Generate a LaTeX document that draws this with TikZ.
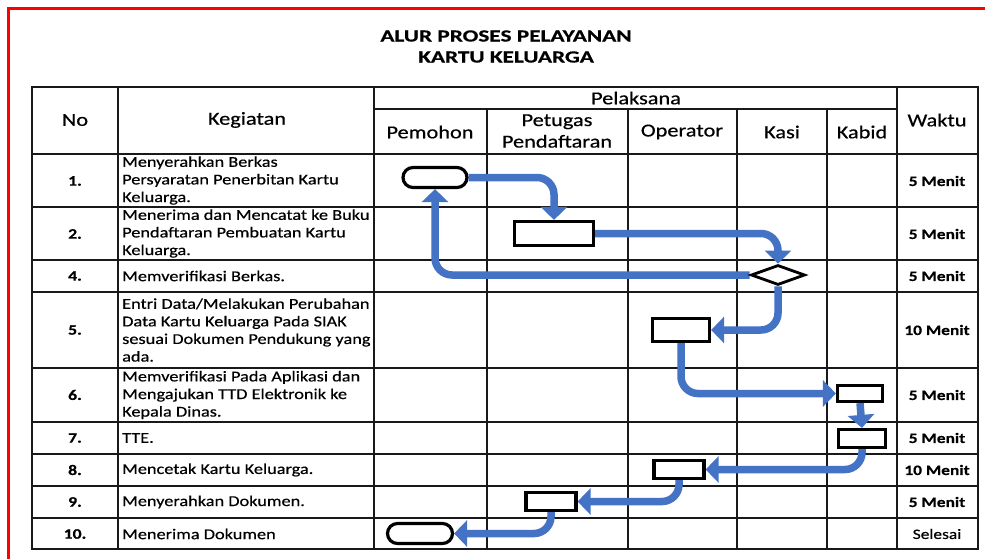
\documentclass[tikz,border=0pt]{standalone}
\usepackage{fontspec}
\setmainfont{Carlito}[FakeStretch=1.22, FakeBold=0.5]
\newfontfamily\titlefont{Carlito}[FakeStretch=1.37, FakeBold=0.5]
\usetikzlibrary{arrows.meta,shapes.geometric}
\definecolor{flowblue}{HTML}{4472C4}
\pgfdeclarelayer{fg}
\pgfsetlayers{main,fg}
\tikzset{
  grid/.style={line width=1.6pt, draw=black!90},
  titletext/.style={font=\titlefont\fontsize{17}{21}\selectfont\bfseries, inner sep=0},
  headtext/.style={font=\fontsize{18.3}{21.5}\selectfont, align=center, inner sep=0},
  numtext/.style={font=\fontsize{14.5}{17.7}\selectfont\bfseries, inner sep=0},
  desctext/.style={font=\fontsize{15}{17.6}\selectfont, align=left, anchor=west, inner sep=0},
  timetext/.style={font=\fontsize{14.3}{17}\selectfont\bfseries, inner sep=0},
  donetext/.style={font=\fontsize{14.3}{17}\selectfont, inner sep=0},
  termbox/.style={draw=black, line width=3.2pt, fill=white, rectangle, rounded corners=10pt, inner sep=0},
  procbox/.style={draw=black, line width=3.2pt, fill=white, rectangle, inner sep=0},
  decbox/.style={draw=black, line width=2.8pt, fill=white, diamond, inner sep=0, aspect=2.6},
  flow/.style={draw=flowblue, line width=7.5pt, rounded corners=17pt, -{Triangle[width=26pt,length=13pt]}}
}
\begin{document}
\begin{tikzpicture}[x=1pt,y=-1pt]
\useasboundingbox (0,0) rectangle (985,559);
% red frame
\draw[red, line width=3pt] (8,560) -- (8,9) -- (986,9);
% title
\node[titletext] (t1) at (506,36) {ALUR PROSES PELAYANAN};
\node[titletext] (t2) at (506,57) {KARTU KELUARGA};
% table grid
\draw[grid] (32,87) rectangle (978,549);
\foreach \x in {118,374,897} \draw[grid] (\x,87) -- (\x,549);
\foreach \x in {487,628,737,827} \draw[grid] (\x,109) -- (\x,549);
\draw[grid] (374,109) -- (897,109);
\foreach \y in {154,207,260,292,368,422,454,486,518} \draw[grid] (32,\y) -- (978,\y);
% header
\node[headtext] (hno) at (75,120) {No};
\node[headtext] (hkeg) at (247,120) {Kegiatan};
\node[headtext] (hpel) at (636,98) {Pelaksana};
\node[headtext] (hpem) at (430,132) {Pemohon};
\node[headtext] (hpet) at (557,131) {Petugas\\Pendaftaran};
\node[headtext] (hop) at (682,132) {Operator};
\node[headtext] (hkasi) at (782,132) {Kasi};
\node[headtext] (hkab) at (862,132) {Kabid};
\node[headtext] (hwak) at (937,120) {Waktu};
% numbers
\node[numtext] (n1) at (75,181) {1.};
\node[numtext] (n2) at (75,234) {2.};
\node[numtext] (n4) at (75,276) {4.};
\node[numtext] (n5) at (75,330) {5.};
\node[numtext] (n6) at (75,395) {6.};
\node[numtext] (n7) at (75,438) {7.};
\node[numtext] (n8) at (75,470) {8.};
\node[numtext] (n9) at (75,502) {9.};
\node[numtext] (n10) at (75,534) {10.};
% descriptions
\node[desctext] (k1) at (122,180.5) {Menyerahkan Berkas\\Persyaratan Penerbitan Kartu\\Keluarga.};
\node[desctext] (k2) at (122,233.5) {Menerima dan Mencatat ke Buku\\Pendaftaran Pembuatan Kartu\\Keluarga.};
\node[desctext] (k4) at (122,276) {Memverifikasi Berkas.};
\node[desctext] (k5) at (122,330) {Entri Data/Melakukan Perubahan\\Data Kartu Keluarga Pada SIAK\\sesuai Dokumen Pendukung yang\\ada.};
\node[desctext] (k6) at (122,395) {Memverifikasi Pada Aplikasi dan\\Mengajukan TTD Elektronik ke\\Kepala Dinas.};
\node[desctext] (k7) at (122,438) {TTE.};
\node[desctext] (k8) at (122,470) {Mencetak Kartu Keluarga.};
\node[desctext] (k9) at (122,502) {Menyerahkan Dokumen.};
\node[desctext] (k10) at (122,534) {Menerima Dokumen};
% times
\node[timetext] (w1) at (937,181) {5 Menit};
\node[timetext] (w2) at (937,234) {5 Menit};
\node[timetext] (w4) at (937,276) {5 Menit};
\node[timetext] (w5) at (937,330) {10 Menit};
\node[timetext] (w6) at (937,395) {5 Menit};
\node[timetext] (w7) at (937,438) {5 Menit};
\node[timetext] (w8) at (937,470) {10 Menit};
\node[timetext] (w9) at (937,502) {5 Menit};
\node[donetext] (w10) at (937,534) {Selesai};
% flow shapes
\begin{pgfonlayer}{fg}
\node[termbox, minimum width=64pt, minimum height=20pt] (s1) at (435,177.5) {};
\node[procbox, minimum width=79pt, minimum height=24pt] (p2) at (554,233.5) {};
\node[decbox, minimum width=54pt, minimum height=20pt] (d4) at (778,275) {};
\node[procbox, minimum width=57pt, minimum height=23pt] (p5) at (681,330) {};
\node[procbox, minimum width=45pt, minimum height=16pt] (p6) at (860,393.5) {};
\node[procbox, minimum width=47pt, minimum height=18pt] (p7) at (862,438.5) {};
\node[procbox, minimum width=50pt, minimum height=18pt] (p8) at (679,469.5) {};
\node[procbox, minimum width=50pt, minimum height=18pt] (p9) at (551,501.5) {};
\node[termbox, minimum width=65pt, minimum height=20pt] (e10) at (420,533.5) {};
\end{pgfonlayer}
% connectors
\draw[flow] (s1.east) -| (p2.north);
\draw[flow] (p2.east) -| (d4.north);
\draw[flow] (d4.west) -| (s1.south);
\draw[flow] (d4.south) |- (p5.east);
\draw[flow] (p5.south) |- (p6.west);
\draw[flow] (p6.south) -- (p7.north);
\draw[flow] (p7.south) |- (p8.east);
\draw[flow] (p8.south) |- (p9.east);
\draw[flow] (p9.south) |- (e10.east);
\end{tikzpicture}
\end{document}
